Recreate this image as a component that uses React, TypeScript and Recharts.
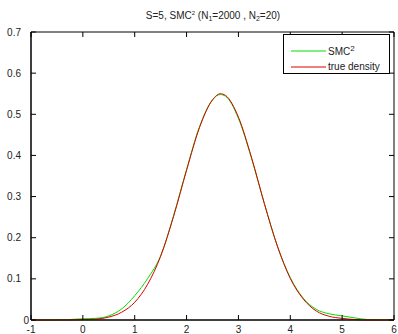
import React from "react";
import { LineChart, Line, XAxis, YAxis, Legend, ReferenceArea } from "recharts";

const xValues = [-1, -0.5, 0, 0.25, 0.5, 0.75, 1.0, 1.25, 1.5, 1.75, 2.0, 2.25, 2.5, 2.65, 2.75, 3.0, 3.25, 3.5, 3.75, 4.0, 4.25, 4.5, 4.75, 5.0, 5.25, 5.5, 6];
const trueDensity = [0, 0, 0.001, 0.002, 0.007, 0.019, 0.043, 0.087, 0.155, 0.252, 0.364, 0.468, 0.535, 0.55, 0.546, 0.493, 0.396, 0.283, 0.18, 0.101, 0.051, 0.022, 0.009, 0.004, 0.001, 0, 0];
const smc2Density = [0, 0, 0.003, 0.004, 0.01, 0.027, 0.059, 0.101, 0.156, 0.254, 0.366, 0.47, 0.535, 0.548, 0.544, 0.49, 0.394, 0.283, 0.18, 0.103, 0.053, 0.026, 0.015, 0.01, 0.005, 0.001, 0];
const xTicks = [-1, 0, 1, 2, 3, 4, 5, 6];
const yTicks = [0, 0.1, 0.2, 0.3, 0.4, 0.5, 0.6, 0.7];

const data = xValues.map((x, i) => ({ x, truth: trueDensity[i], smc: smc2Density[i] }));

const FONT = "'Liberation Sans', Arial, Helvetica, sans-serif";
const PLOT_W = 363;
const PLOT_H = 288;
const TICK = 5;

const XTick = (props: any) => {
  const { x, y, payload } = props;
  return (
    <g>
      <line x1={x} x2={x} y1={y} y2={y - TICK} stroke="#000" />
      <line x1={x} x2={x} y1={y - PLOT_H} y2={y - PLOT_H + TICK} stroke="#000" />
      <text x={x} y={y + 13} textAnchor="middle" fontSize={10} fontFamily={FONT} fill="#222">
        {payload.value}
      </text>
    </g>
  );
};

const YTick = (props: any) => {
  const { x, y, payload } = props;
  const v = payload.value;
  return (
    <g>
      <line x1={x} x2={x + TICK} y1={y} y2={y} stroke="#000" />
      <line x1={x + PLOT_W} x2={x + PLOT_W - TICK} y1={y} y2={y} stroke="#000" />
      <text x={v === 0 ? x - 2 : x - 10} y={y + 3.5} textAnchor="end" fontSize={10} fontFamily={FONT} fill="#222">
        {v}
      </text>
    </g>
  );
};

const LegendBox = () => (
  <div
    style={{
      width: 105,
      height: 38,
      border: "1px solid #000",
      background: "#fff",
      fontFamily: FONT,
      fontSize: 10,
      color: "#222",
      position: "relative",
    }}
  >
    <svg width={44} height={38} style={{ position: "absolute", left: 0, top: 0 }}>
      <line x1={7} x2={42} y1={16} y2={16} stroke="#00dd00" strokeWidth={1} />
      <line x1={7} x2={42} y1={32} y2={32} stroke="#e00000" strokeWidth={1} />
    </svg>
    <div style={{ position: "absolute", left: 44, top: 8, lineHeight: "12px" }}>
      SMC<sup style={{ fontSize: 8, verticalAlign: "4px" }}>2</sup>
    </div>
    <div style={{ position: "absolute", left: 44, top: 26, lineHeight: "12px" }}>true density</div>
  </div>
);

export default function App() {
  return (
    <div style={{ position: "absolute", left: 0, top: 0, width: 398, height: 334, background: "#fff" }}>
      <div
        style={{
          position: "absolute",
          left: 0,
          top: 7,
          width: 426,
          textAlign: "center",
          fontFamily: FONT,
          fontSize: 10,
          color: "#222",
          lineHeight: "12px",
          whiteSpace: "nowrap",
        }}
      >
        S=5, SMC<sup style={{ fontSize: 6, verticalAlign: "4px" }}>2</sup> (N
        <sub style={{ fontSize: 7, verticalAlign: "-2px" }}>1</sub>=2000 , N
        <sub style={{ fontSize: 7, verticalAlign: "-2px" }}>2</sub>=20)
      </div>
      <LineChart width={398} height={334} data={data} margin={{ top: 32, right: 4, left: 0, bottom: 0 }}>
        <ReferenceArea x1={-1} x2={6} y1={0} y2={0.7} fill="none" stroke="#000" strokeWidth={1} ifOverflow="visible" />
        <XAxis
          dataKey="x"
          type="number"
          domain={[-1, 6]}
          ticks={xTicks}
          height={14}
          tickSize={0}
          tickMargin={0}
          tickLine={false}
          axisLine={{ stroke: "#000" }}
          tick={<XTick />}
          interval={0}
        />
        <YAxis
          type="number"
          domain={[0, 0.7]}
          ticks={yTicks}
          width={31}
          tickSize={0}
          tickMargin={0}
          tickLine={false}
          axisLine={{ stroke: "#000" }}
          tick={<YTick />}
          interval={0}
        />
        <Legend
          layout="vertical"
          align="center"
          verticalAlign="middle"
          content={() => <LegendBox />}
          wrapperStyle={{ position: "absolute", left: 283, top: 34, width: 107, height: 40 }}
        />
        <Line dataKey="smc" type="monotone" stroke="#00dd00" strokeWidth={1} dot={false} isAnimationActive={false} />
        <Line dataKey="truth" type="monotone" stroke="#e00000" strokeWidth={1} dot={false} isAnimationActive={false} />
      </LineChart>
    </div>
  );
}
